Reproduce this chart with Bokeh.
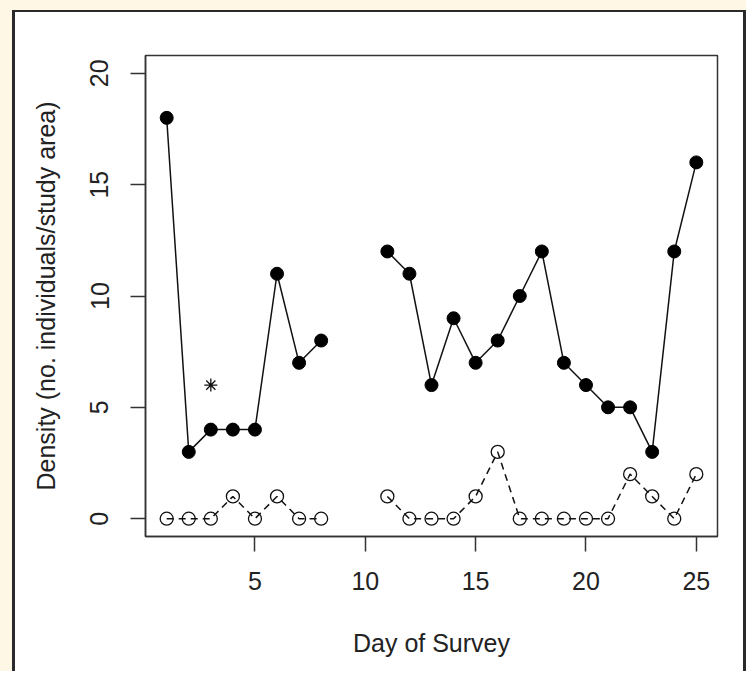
from bokeh.plotting import figure
from bokeh.models import Range1d, FixedTicker, Spacer
from bokeh.layouts import column, row
from bokeh.embed import file_html
from bokeh.resources import INLINE

nan = float("nan")

# ---- data ----
days = list(range(1, 26))
density_filled = [18, 3, 4, 4, 4, 11, 7, 8, nan, nan, 12, 11, 6, 9, 7, 8, 10, 12, 7, 6, 5, 5, 3, 12, 16]
density_open = [0, 0, 0, 1, 0, 1, 0, 0, nan, nan, 1, 0, 0, 0, 1, 3, 0, 0, 0, 0, 0, 2, 1, 0, 2]
asterisk_day = [3]
asterisk_value = [6]
x_ticks = [5, 10, 15, 20, 25]
y_ticks = [0, 5, 10, 15, 20]

FONT = "Liberation Sans"
TXT = "#222222"
FS = "25px"
CREAM = "#FEF7E6"
DARK = "#2a2a2a"

p = figure(width=728, height=659, output_backend="svg", toolbar_location=None,
           x_range=Range1d(0.04, 25.96), y_range=Range1d(-0.8, 20.8),
           min_border_left=130, min_border_right=26, min_border_top=43, min_border_bottom=135,
           border_fill_color="white", background_fill_color="white",
           outline_line_color="#333333", outline_line_width=1.5)

p.xgrid.visible = False
p.ygrid.visible = False

for ax in (p.xaxis[0], p.yaxis[0]):
    ax.axis_line_color = "#333333"
    ax.axis_line_width = 1.5
    ax.major_tick_line_color = "#333333"
    ax.major_tick_line_width = 1.5
    ax.major_tick_in = 0
    ax.major_tick_out = 15
    ax.minor_tick_line_color = None
    ax.major_label_text_font = FONT
    ax.major_label_text_font_size = FS
    ax.major_label_text_color = TXT
    ax.axis_label_text_font = FONT
    ax.axis_label_text_font_size = FS
    ax.axis_label_text_color = TXT
    ax.axis_label_text_font_style = "normal"

p.xaxis.ticker = FixedTicker(ticks=x_ticks)
p.yaxis.ticker = FixedTicker(ticks=y_ticks)
p.yaxis.major_label_orientation = "parallel"
p.xaxis.axis_label = "Day of Survey"
p.yaxis.axis_label = "Density (no. individuals/study area)"
p.xaxis.major_label_standoff = 20
p.yaxis.major_label_standoff = 22
p.xaxis.axis_label_standoff = 36
p.yaxis.axis_label_standoff = 28

# filled series
p.line(days, density_filled, line_color="#111111", line_width=1.5)
p.scatter(days, density_filled, marker="circle", size=13, fill_color="black", line_color="black")

# open series
p.line(days, density_open, line_color="#111111", line_width=1.5, line_dash="7 5")
p.scatter(days, density_open, marker="circle", size=13, fill_alpha=0, line_color="#111111", line_width=1.3)

# asterisk
p.scatter(asterisk_day, asterisk_value, marker="asterisk", size=13, line_color="#111111", line_width=1.3)

# page decoration: cream surround and dark panel border built from spacers
cream = {"background-color": CREAM}
dark = {"background-color": DARK}
layout = column(
    Spacer(width=746, height=10, styles=cream),
    row(
        Spacer(width=12, height=661, styles=cream),
        Spacer(width=3, height=661, styles=dark),
        column(Spacer(width=728, height=2, styles=dark), p),
        Spacer(width=3, height=661, styles=dark),
    ),
)

open("out.html", "w").write(file_html(layout, INLINE))
